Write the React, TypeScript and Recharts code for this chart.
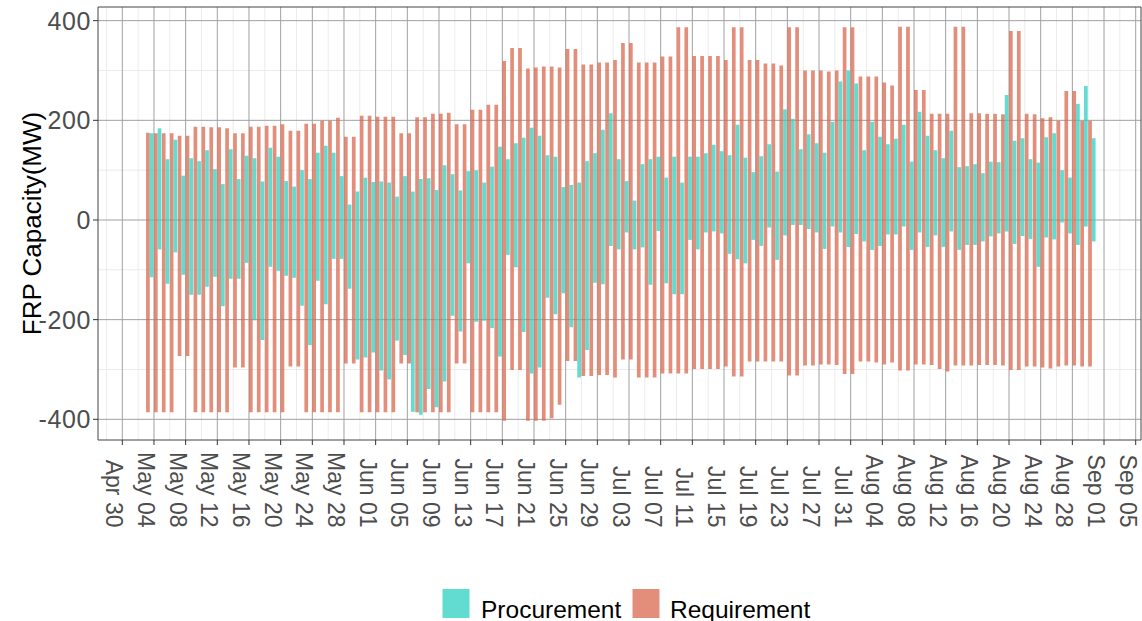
import { BarChart, Bar, XAxis, YAxis, CartesianGrid, ReferenceArea } from 'recharts';

// first bar is May 03 (day 3 counted from Apr 30); bars sit at the middle of each day
const firstDay = 3;

const reqHigh = [
  175, 174, 174, 174, 169, 169, 187, 187, 186, 186, 184, 174, 174, 187, 187, 189, 189, 192, 179, 179,
  193, 193, 199, 199, 205, 167, 167, 209, 209, 207, 207, 207, 174, 174, 206, 206, 213, 213, 215, 192,
  192, 221, 221, 231, 231, 319, 345, 345, 304, 306, 308, 308, 306, 343, 343, 312, 312, 316, 316, 321,
  355, 355, 316, 316, 316, 328, 328, 387, 387, 329, 329, 329, 329, 321, 387, 387, 321, 321, 314, 314,
  310, 387, 387, 300, 300, 300, 298, 300, 387, 387, 288, 288, 288, 276, 270, 388, 388, 261, 261, 213,
  213, 213, 388, 388, 214, 214, 213, 213, 212, 379, 379, 213, 212, 204, 206, 199, 259, 259, 199, 199,
];
const reqLow = [
  -386, -386, -386, -386, -273, -273, -386, -386, -386, -386, -386, -296, -296, -386, -386, -386, -386, -386, -294, -294,
  -386, -386, -386, -386, -386, -288, -288, -386, -386, -386, -386, -386, -288, -288, -386, -386, -386, -386, -386, -288,
  -288, -386, -386, -386, -386, -403, -301, -301, -403, -403, -403, -398, -371, -283, -283, -313, -313, -311, -311, -316,
  -280, -280, -316, -316, -316, -308, -308, -308, -308, -299, -299, -299, -299, -294, -314, -314, -284, -284, -284, -284,
  -284, -312, -312, -292, -292, -290, -290, -291, -309, -309, -284, -284, -286, -290, -286, -302, -302, -290, -290, -291,
  -299, -304, -292, -292, -292, -291, -291, -291, -292, -301, -301, -294, -294, -296, -298, -294, -292, -292, -294, -294,
];
const procHigh = [
  174, 184, 122, 161, 89, 124, 118, 140, 102, 72, 142, 82, 129, 124, 77, 145, 127, 78, 67, 100,
  82, 135, 149, 135, 88, 31, 57, 85, 76, 77, 75, 47, 88, 57, 82, 84, 60, 110, 92, 59,
  98, 100, 75, 107, 147, 122, 154, 165, 185, 169, 130, 127, 66, 70, 75, 118, 134, 181, 214, 122,
  78, 39, 112, 122, 127, 85, 127, 75, 127, 127, 134, 151, 138, 130, 191, 125, 96, 128, 152, 97,
  222, 203, 142, 172, 154, 135, 197, 278, 300, 274, 140, 197, 167, 152, 163, 191, 117, 217, 169, 140,
  124, 179, 106, 108, 112, 94, 117, 116, 251, 159, 164, 122, 115, 166, 174, 100, 85, 233, 269, 164,
];
const procLow = [
  -115, -59, -128, -65, -110, -150, -150, -134, -114, -173, -118, -118, -86, -201, -241, -94, -102, -112, -116, -172,
  -251, -122, -169, -78, -78, -138, -280, -276, -266, -302, -320, -242, -271, -385, -391, -339, -376, -324, -192, -224,
  -87, -204, -202, -217, -274, -70, -95, -225, -308, -296, -156, -189, -147, -215, -316, -261, -126, -129, -52, -59,
  -25, -59, -55, -130, -22, -127, -149, -149, -40, -59, -25, -23, -27, -68, -79, -87, -40, -52, -15, -80,
  -31, -10, -10, -18, -25, -58, -13, -25, -54, -28, -43, -60, -52, -29, -29, -13, -60, -25, -54, -31,
  -54, -23, -60, -50, -50, -43, -33, -27, -23, -48, -32, -38, -94, -35, -39, -5, -27, -50, -13, -43,
];

const xTickLabels = [
  'Apr 30', 'May 04', 'May 08', 'May 12', 'May 16', 'May 20', 'May 24', 'May 28',
  'Jun 01', 'Jun 05', 'Jun 09', 'Jun 13', 'Jun 17', 'Jun 21', 'Jun 25', 'Jun 29',
  'Jul 03', 'Jul 07', 'Jul 11', 'Jul 15', 'Jul 19', 'Jul 23', 'Jul 27', 'Jul 31',
  'Aug 04', 'Aug 08', 'Aug 12', 'Aug 16', 'Aug 20', 'Aug 24', 'Aug 28', 'Sep 01', 'Sep 05',
];
const yTicks = [-400, -200, 0, 200, 400];
const yMinor = [-300, -100, 100, 300];

const xDomain = [-3.07, 128.67];
const yDomain = [-441.5, 427.4];
const xTicks = xTickLabels.map((_, i) => i * 4);
const xMinor = [-2, ...xTicks.slice(0, -1).map(t => t + 2)];

const chartData = reqHigh.map((_, i) => ({
  day: firstDay + i + 0.5,
  requirement: [reqLow[i], reqHigh[i]],
  procurement: [procLow[i], procHigh[i]],
}));

const PROC = '#2ED0C0';
const REQ = '#DA684E';
const FONT = '"Liberation Sans", Arial, Helvetica, sans-serif';

const XTick = (props: any) => {
  const { x, payload } = props;
  const label = xTickLabels[Math.round(payload.value / 4)];
  const yEnd = 527.5;
  return (
    <text x={x} y={yEnd} transform={`rotate(90, ${x}, ${yEnd})`} textAnchor="end" dy="0.7em"
      fontSize={23} fill="#4d4d4d" fontFamily={FONT}>
      {label}
    </text>
  );
};

const App = () => {
  return (
    <div style={{ position: 'absolute', left: 0, top: 0, width: 1142, height: 621, background: '#fff', fontFamily: FONT }}>
      <BarChart width={1142} height={621} data={chartData} barGap={0}
        margin={{ top: 7, right: 1, left: 0, bottom: 0 }}>
        <CartesianGrid stroke="#ebebeb" strokeWidth={1} horizontalValues={yMinor} verticalValues={xMinor} />
        <CartesianGrid stroke="#a0a0a0" strokeWidth={1} horizontalValues={yTicks} verticalValues={xTicks} />
        <XAxis dataKey="day" type="number" domain={xDomain} ticks={xTicks} allowDataOverflow
          height={181} axisLine={false} tickLine={{ stroke: '#333' }} tickSize={5} tick={<XTick />} interval={0} />
        <YAxis type="number" domain={yDomain} ticks={yTicks} allowDataOverflow width={98}
          axisLine={false} tickLine={{ stroke: '#333' }} tickSize={5}
          tick={{ fontSize: 25, fill: '#4d4d4d', fontFamily: FONT, letterSpacing: 0.6 }} interval={0} />
        <Bar dataKey="requirement" fill={REQ} fillOpacity={0.75} barSize={3.7} isAnimationActive={false} />
        <Bar dataKey="procurement" fill={PROC} fillOpacity={0.75} barSize={3.7} isAnimationActive={false} />
        <ReferenceArea x1={xDomain[0]} x2={xDomain[1]} y1={yDomain[0]} y2={yDomain[1]}
          fill="none" stroke="#444" strokeWidth={1} ifOverflow="visible" />
      </BarChart>
      <svg width={1142} height={621} style={{ position: 'absolute', left: 0, top: 0, pointerEvents: 'none' }}>
        <text x={32} y={223.5} transform="rotate(-90, 32, 223.5)" textAnchor="middle" dominantBaseline="central"
          fontSize={26} fill="#000" fontFamily={FONT}>
          FRP Capacity(MW)
        </text>
        <rect x={442.5} y={589} width={27} height={29} fill={PROC} fillOpacity={0.75} />
        <text x={481} y={617.5} fontSize={24.5} fill="#000" fontFamily={FONT}>Procurement</text>
        <rect x={632.5} y={589} width={27} height={29} fill={REQ} fillOpacity={0.75} />
        <text x={670} y={617.5} fontSize={24.5} fill="#000" fontFamily={FONT}>Requirement</text>
      </svg>
    </div>
  );
};

export default App;
